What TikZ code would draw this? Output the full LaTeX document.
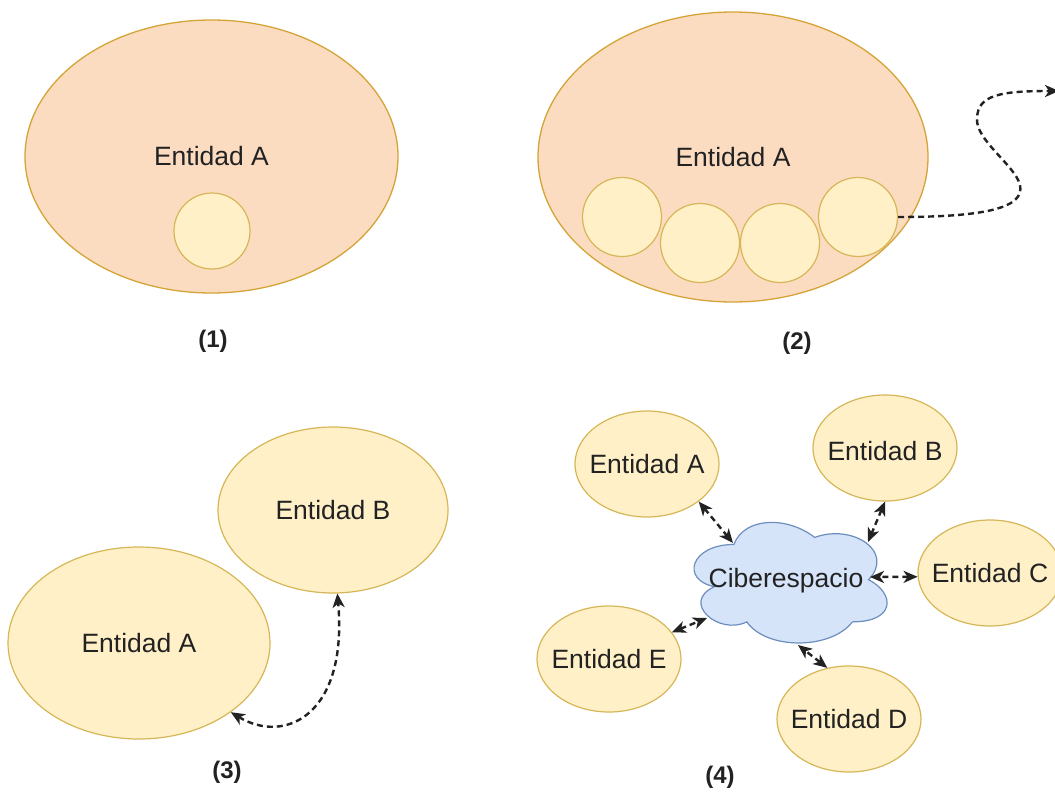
\documentclass[tikz,border=0pt]{standalone}
\usepackage{fontspec}
\setmainfont{Liberation Sans}
\usetikzlibrary{arrows.meta,shapes.geometric}

\definecolor{peachfill}{HTML}{FCDCC1}
\definecolor{peachline}{HTML}{D4A437}
\definecolor{creamfill}{HTML}{FFF0C8}
\definecolor{goldline}{HTML}{D6B656}
\definecolor{skyfill}{HTML}{D6E4F9}
\definecolor{skyline}{HTML}{6C8EBF}
\definecolor{ink}{HTML}{222222}

\begin{document}
\begin{tikzpicture}[x=1pt,y=-1pt,
  every node/.append style={text=ink},
  font=\fontsize{26.5}{30}\selectfont,
  >={Stealth[length=14pt,width=12pt,inset=4pt]},
  outer/.style={ellipse, draw=peachline, fill=peachfill, line width=1.3pt, inner sep=0pt},
  bubble/.style={circle, draw=goldline, fill=creamfill, line width=1.2pt, inner sep=0pt, minimum size=#1},
  entity/.style={ellipse, draw=goldline, fill=creamfill, line width=1.2pt, inner sep=0pt},
  smallentity/.style={entity, minimum width=144pt, minimum height=106pt},
  caption/.style={font=\bfseries\fontsize{24}{28}\selectfont},
  link/.style={draw=ink, line width=2.4pt, dashed, dash pattern=on 6pt off 4pt}
]
% page and background
\useasboundingbox (0,0) rectangle (1055,792);
\fill[white] (0,0) rectangle (1055,792);

% ---------- (1) one entity holding one element ----------
\node[outer, minimum width=373pt, minimum height=273pt,
      label=center:Entidad A] (big1) at (211.5,156.5) {};
\node[bubble=76pt] (s1) at (212,231) {};
\node[caption] (cap1) at (213,341) {(1)};

% ---------- (2) one entity holding several elements ----------
\node[outer, minimum width=390pt, minimum height=290pt,
      label=center:Entidad A] (big2) at (733,157) {};
\node[bubble=79pt] (p1) at (622,217) {};
\node[bubble=79pt] (p2) at (700,243) {};
\node[bubble=79pt] (p3) at (780,243) {};
\node[bubble=79pt] (p4) at (858,217) {};
\coordinate (away) at (1059,91);
\draw[link,->] (p4.east) .. controls (985,217) and (1025,208) .. (1020,185)
  .. controls (1015,165) and (975,140) .. (977,118)
  .. controls (978,95) and (1000,91) .. (away);
\node[caption] (cap2) at (797,343) {(2)};

% ---------- (3) two entities linked directly ----------
\node[entity, minimum width=230pt, minimum height=166pt,
      label=center:Entidad B] (b3) at (333,510) {};
\node[entity, minimum width=262pt, minimum height=192pt,
      label=center:Entidad A] (a3) at (139,643) {};
\draw[link,<->] (a3.-37) .. controls (285,745) and (348,715) .. (b3.-87);
\node[caption] (cap3) at (227,772) {(3)};

% ---------- (4) entities linked through cyberspace ----------
\begin{scope}[shift={(680,509.3)}, x=215.5pt, y=-140.7pt]
  \draw[skyline, fill=skyfill, line width=1.2pt]
    (0.25,0.25) .. controls (0.05,0.25) and (0,0.5) .. (0.16,0.55)
    .. controls (0,0.66) and (0.18,0.9) .. (0.31,0.8)
    .. controls (0.4,1) and (0.7,1) .. (0.8,0.8)
    .. controls (1,0.8) and (1,0.6) .. (0.875,0.5)
    .. controls (1,0.3) and (0.8,0.1) .. (0.625,0.2)
    .. controls (0.5,0.05) and (0.3,0.05) .. (0.25,0.25) -- cycle;
\end{scope}
\node (cl) at (786,581) {Ciberespacio};

\node[smallentity, label=center:Entidad A] (a4) at (647,464) {};
\node[smallentity, label={[yshift=-3pt]center:Entidad B}] (b4) at (885,448) {};
\node[smallentity, label=center:Entidad C] (c4) at (990,573) {};
\node[smallentity, label=center:Entidad E] (e4) at (609,659) {};
\node[smallentity, label=center:Entidad D] (d4) at (849,719) {};

\draw[link,<->] (a4.-36) -- ([shift={(-53,-38)}]cl.center);
\draw[link,<->] (b4.-90) -- ([shift={(82,-39)}]cl.center);
\draw[link,<->] (c4.183) -- ([shift={(84,-4)}]cl.center);
\draw[link,<->] (e4.23) -- ([shift={(-79,37)}]cl.center);
\draw[link,<->] (d4.113) -- ([shift={(12,64)}]cl.center);
\node[caption] (cap4) at (720,777) {(4)};
\end{tikzpicture}
\end{document}
